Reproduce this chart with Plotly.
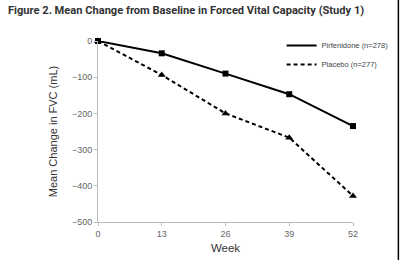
import plotly.graph_objects as go

weeks = [0, 13, 26, 39, 52]
pirfenidone = [0, -34, -90, -147, -235]
placebo = [0, -94, -200, -267, -428]
x_ticks = [0, 13, 26, 39, 52]
y_ticks = [0, -100, -200, -300, -400, -500]
names = ["Pirfenidone (n=278)", "Placebo (n=277)"]

fig = go.Figure()
fig.add_trace(go.Scatter(x=weeks, y=pirfenidone, mode="lines", name=names[0],
                         line=dict(color="black", width=2)))
fig.add_trace(go.Scatter(x=weeks, y=placebo, mode="lines", name=names[1],
                         line=dict(color="black", width=2, dash="4px,3px")))
fig.add_trace(go.Scatter(x=weeks, y=pirfenidone, mode="markers", showlegend=False,
                         marker=dict(symbol="square", size=6, color="black"), cliponaxis=False))
fig.add_trace(go.Scatter(x=weeks, y=placebo, mode="markers", showlegend=False,
                         marker=dict(symbol="triangle-up", size=7, color="black"), cliponaxis=False))

fig.update_layout(
    width=400, height=260,
    margin=dict(l=98, r=47, t=41, b=38, autoexpand=False),
    paper_bgcolor="white", plot_bgcolor="white",
    font=dict(family="Liberation Sans, Arial", color="#555"),
    title=dict(text="<b>Figure 2. Mean Change from Baseline in Forced Vital Capacity (Study 1)</b>",
               x=0.02, xanchor="left", y=0.975, yanchor="top",
               font=dict(family="Roboto", size=11.1, color="#333")),
    legend=dict(x=0.72, y=1.055, xanchor="left", yanchor="top", bgcolor="rgba(0,0,0,0)",
                font=dict(size=7.5, color="#444"), tracegroupgap=0, itemwidth=30),
    xaxis=dict(range=[0, 52], tickvals=x_ticks, showgrid=False, zeroline=False,
               showline=True, linecolor="#bbb", ticks="outside", ticklen=3, tickcolor="#bbb",
               tickfont=dict(size=9, color="#666"),
               title=dict(text="Week", font=dict(size=11.5, color="#333"), standoff=6)),
    yaxis=dict(range=[-500, 0], tickvals=y_ticks, showgrid=False, zeroline=False,
               showline=True, linecolor="#bbb", ticks="outside", ticklen=3, tickcolor="#bbb",
               tickfont=dict(size=9, color="#666"),
               title=dict(text="Mean Change in FVC (mL)", font=dict(size=11, color="#333"), standoff=12)),
    shapes=[dict(type="line", xref="paper", yref="paper", x0=1.178, x1=1.178, y0=-0.3, y1=1.3,
                 line=dict(color="black", width=1.5))],
)

fig.write_html("out.html")
